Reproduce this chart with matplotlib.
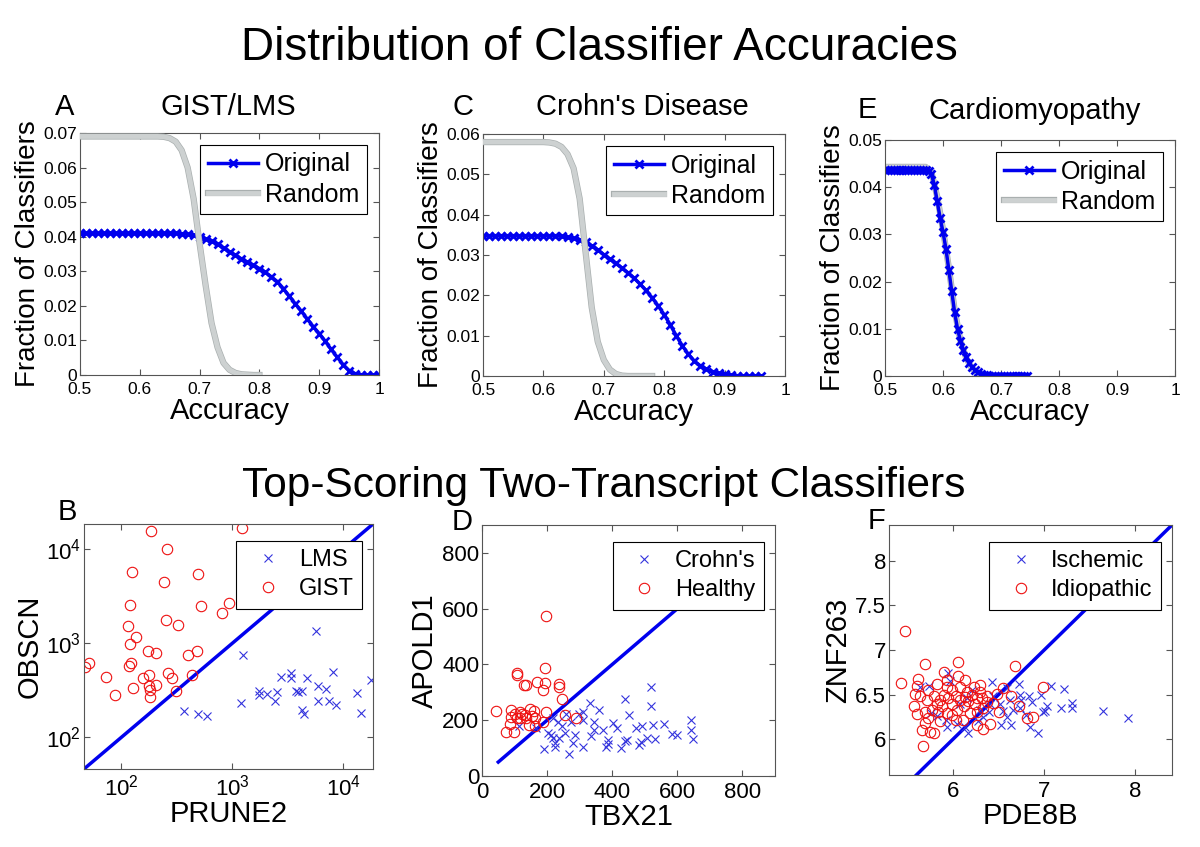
import numpy as np
import matplotlib.pyplot as plt
import matplotlib.patheffects as pe

plt.rcParams['font.family'] = ['Liberation Sans', 'DejaVu Sans']
plt.rcParams['mathtext.fontset'] = 'custom'
plt.rcParams['mathtext.rm'] = 'Liberation Sans'
plt.rcParams['mathtext.it'] = 'Liberation Sans:italic'

# --- A: GIST/LMS accuracy distributions (step 0.01) ---
acc_a = np.round(np.arange(0.50, 1.001, 0.01), 2)
orig_a = [0.041] * 17 + [0.0409, 0.0407, 0.0404, 0.0400, 0.0394, 0.0387, 0.0378, 0.0367,
                         0.0356, 0.0346, 0.0336, 0.0326, 0.0317, 0.0308, 0.0297, 0.0284,
                         0.0270, 0.0250, 0.0228, 0.0206, 0.0185, 0.0162, 0.0140, 0.0120,
                         0.0098, 0.0074, 0.0052, 0.0030, 0.0013, 0.0004, 0.0001, 0, 0, 0]
acc_a_rand = np.round(np.arange(0.50, 0.805, 0.01), 2)
rand_a = [0.069] * 14 + [0.0689, 0.0685, 0.0675, 0.065, 0.060, 0.051, 0.038, 0.026, 0.015,
                         0.008, 0.0035, 0.0015, 0.0006, 0.0002, 0.0001, 0, 0]

# --- C: Crohn's disease ---
acc_c = np.round(np.arange(0.50, 0.965, 0.01), 2)
orig_c = [0.0348] * 13 + [0.0346, 0.0344, 0.0341, 0.0337, 0.0331, 0.0323, 0.0313, 0.0301,
                          0.0290, 0.0279, 0.0268, 0.0256, 0.0243, 0.0228, 0.0212, 0.0194,
                          0.0174, 0.0152, 0.0127, 0.0100, 0.0075, 0.0054, 0.0037, 0.0025,
                          0.0017, 0.0011, 0.0007, 0.0004, 0.0002, 0.0001, 0, 0, 0, 0]
acc_c_rand = np.round(np.arange(0.50, 0.785, 0.01), 2)
rand_c = [0.058] * 11 + [0.0579, 0.0576, 0.0568, 0.0550, 0.0515, 0.0440, 0.0305, 0.0170,
                         0.0085, 0.0040, 0.0016, 0.0005, 0.0001, 0, 0, 0, 0, 0]

# --- E: Cardiomyopathy (step 0.005) ---
acc_e = np.round(np.arange(0.50, 0.7451, 0.005), 3)
orig_e = [0.0437] * 15 + [0.0435, 0.0428, 0.0405, 0.0370, 0.0335, 0.0305, 0.0270, 0.0225,
                          0.0180, 0.0135, 0.0100, 0.0075, 0.0055, 0.0040, 0.0028, 0.0019,
                          0.0012, 0.0008, 0.0005, 0.0003, 0.0002, 0.0001] + [0] * 13
acc_e_rand = np.round(np.arange(0.50, 0.705, 0.01), 2)
rand_e = [0.0443] * 8 + [0.0432, 0.0380, 0.0310, 0.0230, 0.0140, 0.0075, 0.0038, 0.0016,
                         0.0006, 0.0002, 0, 0, 0]

acc_ticks = [0.5, 0.6, 0.7, 0.8, 0.9, 1.0]
acc_ticklabels = ['0.5', '0.6', '0.7', '0.8', '0.9', '1']

# --- B: PRUNE2 vs OBSCN ---
gist_x = [183, 1213, 256, 125, 493, 243, 119, 524, 927, 802, 253, 326, 114, 134, 119, 173,
          204, 398, 483, 47.3, 50.6, 121, 118, 73, 177, 264, 286, 436, 157, 177, 206, 182,
          127, 313, 88, 181]
gist_y = [15700, 16600, 10100, 5770, 5400, 4470, 2550, 2510, 2660, 2080, 1750, 1550, 1530,
          1160, 975, 820, 794, 750, 834, 557, 611, 621, 567, 435, 461, 481, 426, 458, 426,
          349, 358, 319, 330, 308, 279, 268]
lms_x = [5690, 1240, 8020, 2730, 3400, 3350, 4700, 5970, 7000, 17600, 13400, 14300, 8530,
         7450, 5850, 4240, 4380, 3770, 3900, 4240, 2550, 2410, 2030, 1720, 1720, 1190, 366,
         493, 585]
lms_y = [1355, 750, 497, 436, 485, 429, 422, 355, 327, 405, 296, 181, 218, 241, 241, 193,
         178, 308, 301, 308, 301, 241, 291, 313, 284, 231, 188, 176, 169]

# --- D: TBX21 vs APOLD1 ---
healthy_x = [197, 194, 108, 106, 129, 134, 168, 192, 188, 236, 235, 245, 44, 90, 101, 116,
             124, 131, 147, 159, 155, 197, 89, 106, 118, 136, 85, 73, 99, 145, 162, 188, 254,
             290, 162]
healthy_y = [573, 388, 371, 362, 325, 325, 338, 333, 310, 331, 320, 276, 234, 236, 224, 230,
             224, 219, 242, 232, 215, 228, 212, 207, 207, 207, 186, 156, 156, 183, 180, 195,
             219, 209, 207]
crohn_x = [518, 518, 438, 333, 360, 453, 311, 298, 259, 219, 232, 245, 272, 309, 345, 372,
           403, 415, 472, 492, 524, 558, 643, 643, 649, 598, 585, 531, 506, 487, 483, 444,
           440, 427, 388, 386, 382, 335, 343, 287, 278, 268, 309, 225, 218, 225, 190, 167,
           204, 256, 235, 113, 213]
crohn_y = [319, 252, 277, 261, 236, 219, 228, 224, 221, 207, 193, 179, 195, 201, 195, 165,
           191, 171, 171, 179, 183, 185, 201, 165, 131, 147, 149, 131, 135, 123, 111, 129,
           127, 100, 129, 113, 105, 144, 165, 147, 119, 78, 104, 117, 138, 105, 98, 171, 153,
           153, 138, 181, 146]

# --- F: PDE8B vs ZNF263 ---
idio_x = [5.48, 5.43, 5.69, 6.06, 6.68, 6.99, 5.62, 5.61, 5.58, 5.64, 5.90, 6.06, 6.13, 5.83,
          5.93, 6.08, 6.23, 6.30, 6.37, 6.48, 6.55, 6.64, 6.44, 6.72, 6.81, 6.88, 5.57, 5.61,
          5.69, 5.72, 5.79, 5.83, 5.86, 5.90, 5.95, 5.99, 6.03, 6.08, 6.13, 6.17, 6.21, 6.26,
          6.32, 6.12, 6.04, 5.99, 5.93, 5.84, 5.77, 5.73, 5.69, 5.66, 5.75, 5.79, 5.67, 5.86,
          6.03, 6.11, 6.19, 6.26, 6.33, 6.26, 6.33, 6.41, 6.50, 5.99, 6.15, 6.30, 6.24, 5.88,
          5.73, 5.93, 6.37]
idio_y = [7.21, 6.63, 6.84, 6.87, 6.82, 6.59, 6.68, 6.60, 6.51, 6.49, 6.75, 6.71, 6.66, 6.62,
          6.59, 6.59, 6.59, 6.53, 6.48, 6.51, 6.58, 6.48, 6.41, 6.37, 6.24, 6.25, 6.37, 6.28,
          6.31, 6.44, 6.48, 6.40, 6.44, 6.50, 6.46, 6.40, 6.48, 6.44, 6.47, 6.43, 6.50, 6.46,
          6.46, 6.37, 6.33, 6.27, 6.29, 6.31, 6.33, 6.24, 6.18, 6.10, 6.08, 6.07, 5.93, 6.20,
          6.22, 6.22, 6.29, 6.31, 6.35, 6.16, 6.12, 6.17, 6.31, 6.55, 6.53, 6.61, 6.40, 6.37,
          6.55, 6.66, 6.42]
isch_x = [7.92, 7.64, 7.30, 7.30, 7.22, 7.18, 7.07, 7.03, 7.01, 6.99, 6.93, 6.96, 6.87, 6.83,
          6.74, 6.72, 6.75, 6.84, 6.80, 6.74, 6.64, 6.59, 6.53, 6.63, 6.66, 6.55, 6.43, 6.44,
          6.39, 6.33, 6.28, 6.17, 6.13, 6.04, 5.93, 5.92, 5.83, 5.76, 5.74, 5.64, 5.95, 5.97,
          6.08, 6.15, 6.21, 6.52, 6.59, 6.30, 6.41]
isch_y = [6.24, 6.32, 6.41, 6.35, 6.56, 6.35, 6.60, 6.37, 6.32, 6.31, 6.07, 6.50, 6.42, 6.48,
          6.50, 6.62, 6.44, 6.14, 6.27, 6.35, 6.16, 6.25, 6.16, 6.44, 6.33, 6.32, 6.64, 6.48,
          6.31, 6.25, 6.20, 6.07, 6.14, 6.17, 6.14, 6.22, 6.26, 6.29, 6.60, 6.59, 6.74, 6.65,
          6.40, 6.46, 6.55, 6.40, 6.57, 6.33, 6.40]

W, H = 1200, 847
fig = plt.figure(figsize=(12, 8.47), dpi=100)
edge = '#555555'


def rect(l, t, r, b):
    return [l / W, 1 - b / H, (r - l) / W, (b - t) / H]


def style(ax, size):
    ax.tick_params(direction='in', top=True, right=True, labelsize=size, length=4,
                   color=edge, pad=2)
    for s in ax.spines.values():
        s.set_color(edge)


def curve_panel(box, acc, orig, acc_r, rnd, ymax, yticks, ylabels, rand_on_top=True):
    ax = fig.add_axes(rect(*box))
    zr = 3 if rand_on_top else 1
    ax.plot(acc, orig, '-x', color='#0000ee', lw=2.5, ms=6, mew=2, zorder=2, label='Original')
    ax.plot(acc_r, rnd, '-', color='#cdd1d1', lw=3.5, zorder=zr, label='Random',
            path_effects=[pe.Stroke(linewidth=4.5, foreground='#a9afaf'), pe.Normal()])
    ax.set_xlim(0.5, 1)
    ax.set_ylim(0, ymax)
    ax.set_xticks(acc_ticks)
    ax.set_xticklabels(acc_ticklabels)
    ax.set_yticks(yticks)
    ax.set_yticklabels(ylabels)
    style(ax, 12.5)
    ax.tick_params(axis='x', pad=5)
    ax.set_xlabel('Accuracy', fontsize=21, labelpad=0)
    ax.set_ylabel('Fraction of Classifiers', fontsize=20, labelpad=2)
    h = box[3] - box[1]
    leg = ax.legend(loc='upper right', fontsize=18, fancybox=False, edgecolor='k',
                    framealpha=1, handlelength=2.0, handletextpad=0.3, borderpad=0.3,
                    labelspacing=0.25, borderaxespad=0,
                    bbox_to_anchor=(1 - 12 / (box[2] - box[0]), 1 - 12 / h))
    leg.get_frame().set_linewidth(0.8)
    return ax


curve_panel((80, 133, 379, 375), acc_a, orig_a, acc_a_rand, rand_a, 0.07,
            [0, 0.01, 0.02, 0.03, 0.04, 0.05, 0.06, 0.07],
            ['0', '0.01', '0.02', '0.03', '0.04', '0.05', '0.06', '0.07'])
curve_panel((483, 134, 785, 376), acc_c, orig_c, acc_c_rand, rand_c, 0.06,
            [0, 0.01, 0.02, 0.03, 0.04, 0.05, 0.06],
            ['0', '0.01', '0.02', '0.03', '0.04', '0.05', '0.06'])
curve_panel((885, 140, 1175, 376), acc_e, orig_e, acc_e_rand, rand_e, 0.05,
            [0, 0.01, 0.02, 0.03, 0.04, 0.05],
            ['0', '0.01', '0.02', '0.03', '0.04', '0.05'], rand_on_top=False)


def scatter_panel(box, xa, ya, la, xb, yb, lb, lim, xlabel, ylabel, log=False, line=None):
    ax = fig.add_axes(rect(*box))
    if line is None:
        line = lim
    ax.plot(line, line, '-', color='#0000ee', lw=2.5, zorder=1)
    ax.plot(xa, ya, 'x', color='#3333dd', ms=6, mew=0.8, label=la, zorder=2)
    ax.plot(xb, yb, 'o', mfc='none', mec='#ee1111', ms=7.5, mew=0.8, label=lb, zorder=2)
    if log:
        ax.set_xscale('log')
        ax.set_yscale('log')
        ax.minorticks_off()
    ax.set_xlim(lim)
    ax.set_ylim(lim)
    style(ax, 16)
    ax.tick_params(axis='x', pad=4)
    ax.set_xlabel(xlabel, fontsize=21, labelpad=0)
    ax.set_ylabel(ylabel, fontsize=21, labelpad=2)
    w = box[2] - box[0]
    h = box[3] - box[1]
    leg = ax.legend(loc='upper right', fontsize=17, fancybox=False, edgecolor='k',
                    framealpha=1, handlelength=2.0, handletextpad=0.3, borderpad=0.35,
                    labelspacing=0.3, borderaxespad=0, markerscale=1.0,
                    bbox_to_anchor=(1 - 11 / w, 1 - 17 / h))
    leg.get_frame().set_linewidth(0.8)
    return ax


axb = scatter_panel((84, 524, 373, 769), lms_x, lms_y, 'LMS', gist_x, gist_y, 'GIST',
                    (46, 18500), 'PRUNE2', 'OBSCN', log=True)
axd = scatter_panel((482, 525, 775, 776), crohn_x, crohn_y, "Crohn's", healthy_x, healthy_y,
                    'Healthy', (0, 900), 'TBX21', 'APOLD1', line=(50, 750))
axd.set_xticks([0, 200, 400, 600, 800])
axd.set_yticks([0, 200, 400, 600, 800])
axf = scatter_panel((889, 525, 1172, 775), isch_x, isch_y, 'Ischemic', idio_x, idio_y,
                    'Idiopathic', (5.6, 8.4), 'PDE8B', 'ZNF263', line=(5.6, 8.4))
axf.set_xlim(5.3, 8.4)
axf.set_xticks([6, 7, 8])
axf.set_yticks([6, 6.5, 7, 7.5, 8])
axf.set_yticklabels(['6', '6.5', '7', '7.5', '8'])


def ftext(px, py, s, size):
    fig.text(px / W, 1 - py / H, s, fontsize=size, ha='center', va='center')


ftext(599, 48, 'Distribution of Classifier Accuracies', 33)
ftext(604, 486, 'Top-Scoring Two-Transcript Classifiers', 30.5)
ftext(228, 107, 'GIST/LMS', 21)
ftext(642, 107, "Crohn's Disease", 21)
ftext(1035, 111, 'Cardiomyopathy', 21)
ftext(65, 107, 'A', 21)
ftext(463, 107, 'C', 21)
ftext(867, 110, 'E', 21)
ftext(67, 512, 'B', 21)
ftext(462, 522, 'D', 21)
ftext(877, 521, 'F', 21)

fig.savefig('out.png', dpi=100)
